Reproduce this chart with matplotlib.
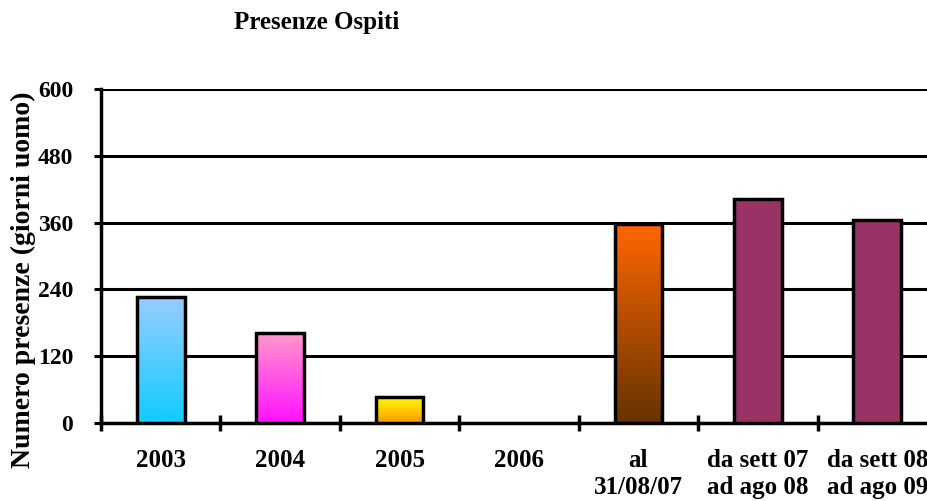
import numpy as np
import matplotlib.pyplot as plt
from matplotlib.colors import LinearSegmentedColormap

# dati
categorie = ['2003', '2004', '2005', '2006', 'al\n31/08/07',
             'da sett 07\nad ago 08', 'da sett 08\nad ago 09']
presenze = [226, 161, 47, 0, 357, 402, 364]
# colori (alto, basso) di ogni barra
colori = [('#99CCFF', '#11CCFF'), ('#FF99CC', '#FF11FF'), ('#FFFF00', '#FF9900'),
          ('#FFFFFF', '#FFFFFF'), ('#FF6600', '#663300'),
          ('#993366', '#993366'), ('#993366', '#993366')]

plt.rcParams.update({
    'font.family': 'serif',
    'font.serif': ['Liberation Serif', 'DejaVu Serif'],
    'font.weight': 'bold',
})

fig = plt.figure(figsize=(9.27, 5.01), dpi=100)
ax = fig.add_axes([101 / 927, 1 - 423 / 501, 836 / 927, 334 / 501])

x = np.arange(len(categorie))
larghezza = 0.4
bars = ax.bar(x, presenze, width=larghezza, color='none',
              edgecolor='black', linewidth=2.5, zorder=4)

# riempimento sfumato
grad = np.linspace(1, 0, 256).reshape(-1, 1)
for b, (alto, basso) in zip(bars, colori):
    h = b.get_height()
    if h <= 0:
        b.set_linewidth(0)
        continue
    cmap = LinearSegmentedColormap.from_list('g', [basso, alto])
    x0 = b.get_x()
    ax.imshow(grad, cmap=cmap, aspect='auto', zorder=3,
              extent=(x0, x0 + b.get_width(), 0, h), vmin=0, vmax=1)

ax.set_xlim(-0.5, len(categorie) - 0.5)
ax.set_ylim(0, 600)
ax.set_yticks(np.arange(0, 601, 120))
ax.yaxis.grid(True, color='black', linewidth=2.2)
ax.set_axisbelow(True)

ax.set_xticks(x)
ax.set_xticklabels(categorie, fontsize=18, linespacing=1.2)
ax.set_xticks(np.arange(-0.5, len(categorie)), minor=True)
ax.tick_params(axis='x', which='major', length=0, pad=19)
ax.tick_params(axis='x', which='minor', direction='inout', length=11, width=2.5)
ax.tick_params(axis='y', direction='out', length=5, width=2.2, labelsize=17, pad=15)

for s in ['top', 'right']:
    ax.spines[s].set_visible(False)
for s in ['left', 'bottom']:
    ax.spines[s].set_linewidth(2.5)

fig.text(317 / 927, 1 - 22 / 501, 'Presenze Ospiti', ha='center', va='center',
         fontsize=18, fontweight='bold')
fig.text(23 / 927, 1 - 280 / 501, 'Numero presenze (giorni uomo)', rotation=90,
         ha='center', va='center', fontsize=20, fontweight='bold')

plt.savefig('out.png', dpi=100)
